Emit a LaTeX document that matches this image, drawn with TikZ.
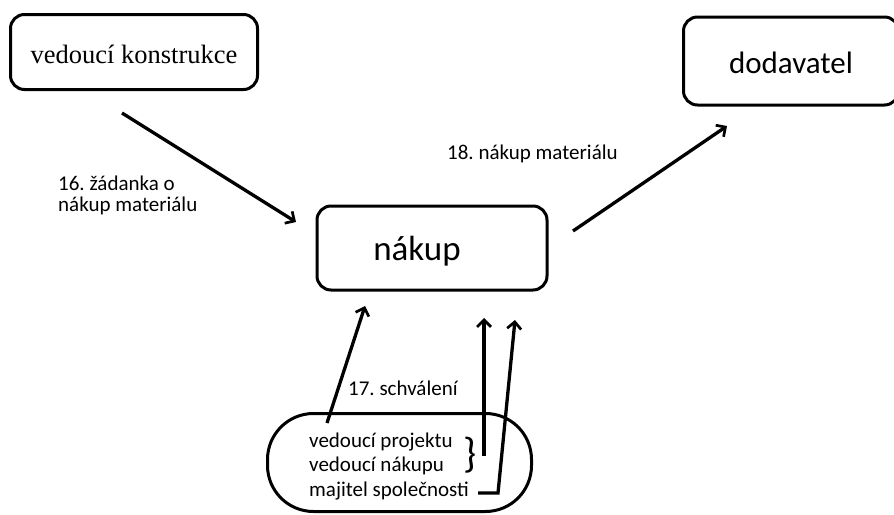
\documentclass[tikz,border=0pt]{standalone}
\usepackage{fontspec}
\setmainfont{Carlito}
\newfontfamily\serifface{Liberation Serif}
\usetikzlibrary{arrows.meta}
\frenchspacing
\tikzset{
  box/.style={draw, line width=3pt, rounded corners=14pt, inner sep=0pt},
  flow/.style={line width=3.3pt, -{Straight Barb[length=7pt,width=14pt,line width=2.7pt]}},
  lbl/.style={inner sep=0pt, anchor=west, font=\fontsize{21}{24}\selectfont},
}
\begin{document}
\begin{tikzpicture}[x=1pt,y=-1pt]
\useasboundingbox (0,0) rectangle (894,514);

% boxes
\node[box, minimum width=247pt, minimum height=75pt] (vk) at (134,52) {};
\node[inner sep=0pt, font=\serifface\fontsize{26.5}{30}\selectfont] (vkt) at (134,54) {vedoucí konstrukce};

\node[box, minimum width=215pt, minimum height=88pt] (dod) at (791,61) {};
\node[inner sep=0pt, font=\fontsize{31}{36}\selectfont] (dodt) at (791,63) {dodavatel};

\node[box, minimum width=230pt, minimum height=84pt] (nak) at (432,248) {};
\node[inner sep=0pt, font=\fontsize{35}{40}\selectfont] (nakt) at (417,251) {nákup};

\node[box, rounded corners=46pt, minimum width=264pt, minimum height=98pt] (sch) at (399.5,462.5) {};
\node[lbl] (p1) at (309,442) {vedoucí projektu};
\node[lbl] (p2) at (309,466) {vedoucí nákupu};
\node[lbl] (p3) at (309,491) {majitel společnosti};
\node[inner sep=0pt, font=\fontsize{42}{46}\selectfont] (br) at (470,455) {\}};

% labels
\node[lbl] (l16a) at (58,183) {16. žádanka o};
\node[lbl] (l16b) at (58,206) {nákup materiálu};
\node[lbl] (l18) at (447,154) {18. nákup materiálu};
\node[lbl] (l17) at (348,388) {17. schválení};

% connector end points
\coordinate (a16s) at (122,113);
\coordinate (a16e) at (296,222);
\coordinate (a18s) at (573,231);
\coordinate (a18e) at (727,126);
\coordinate (a17s) at (327,423);
\coordinate (a17e) at (365,306);
\coordinate (vAs) at (484,456);
\coordinate (vAe) at (484,318);
\coordinate (vBs) at (478,493);
\coordinate (vBm) at (498,493);
\coordinate (vBe) at (515,320);

% connectors
\draw[flow] (a16s) -- (a16e);
\draw[flow] (a18s) -- (a18e);
\draw[flow] (a17s) -- (a17e);
\draw[flow] (vAs) -- (vAe);
\draw[flow] (vBs) -- (vBm) -- (vBe);
\end{tikzpicture}
\end{document}
